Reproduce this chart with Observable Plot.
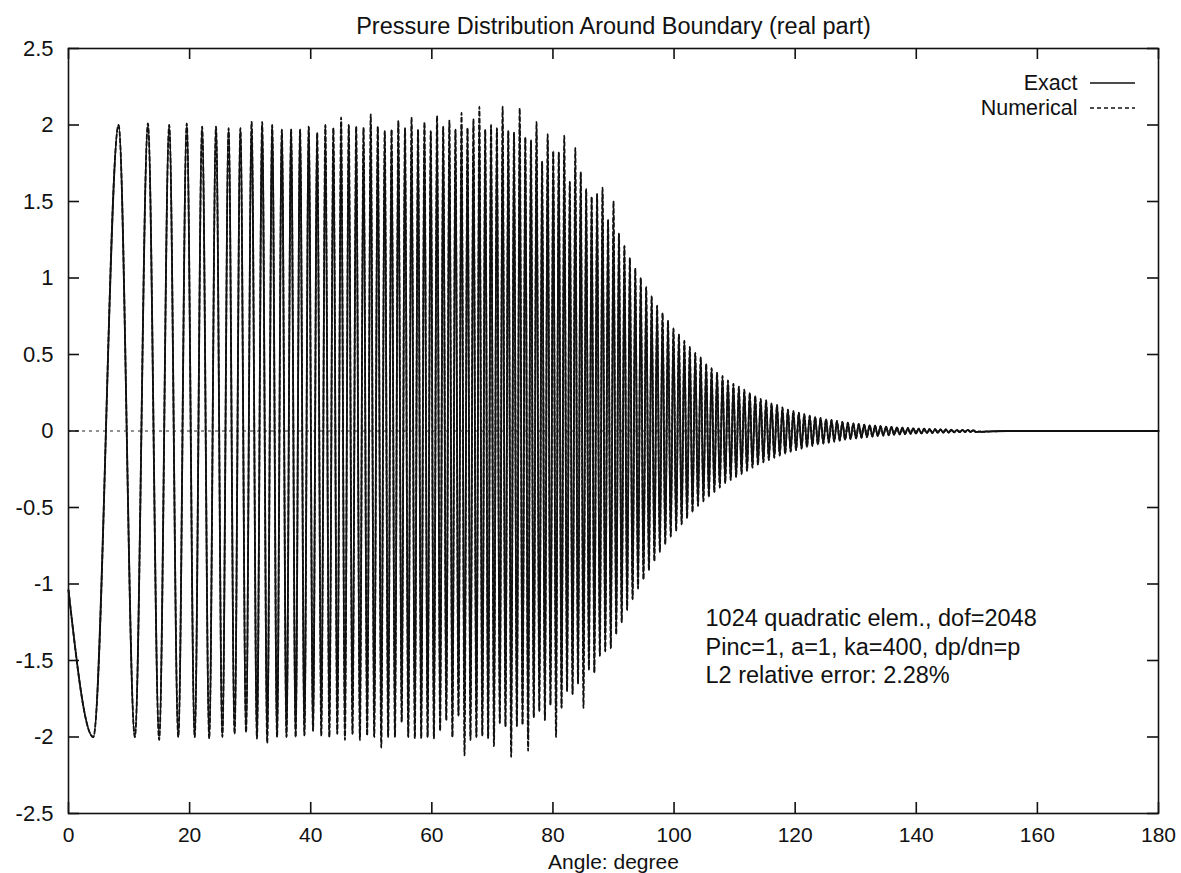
<!DOCTYPE html>
<html>
<head>
<meta charset="utf-8">
<script src="https://cdn.jsdelivr.net/npm/d3@7"></script>
<script src="https://cdn.jsdelivr.net/npm/@observablehq/plot@0.6"></script>
<style>
  html, body { margin: 0; padding: 0; background: #fff; }
  #wrap { position: relative; width: 1181px; height: 873px; font-family: "Liberation Sans", Arial, Helvetica, sans-serif; }
  #legendSwatch { position: absolute; left: 0; top: 0; pointer-events: none; }
</style>
</head>
<body>
<div id="wrap"></div>
<script>
// ---------- chart texts ----------
const titleText = "Pressure Distribution Around Boundary (real part)";
const xLabelText = "Angle: degree";
const seriesNames = ["Exact", "Numerical"];
const annotationLines = [
  "1024 quadratic elem., dof=2048",
  "Pinc=1, a=1, ka=400, dp/dn=p",
  "L2 relative error: 2.28%"
];

// ---------- ticks ----------
const xTicks = [0, 20, 40, 60, 80, 100, 120, 140, 160, 180];
const yTicks = [-2.5, -2, -1.5, -1, -0.5, 0, 0.5, 1, 1.5, 2, 2.5];

// ---------- data: extrema ----------
// illuminated side: [angle (deg), exact, numerical]
const litExtrema = [
  [0, -1.04, -1.04], [4.09, -2, -2], [8.27, 2, 2], [10.96, -2, -2], [13.12, 2, 2.01],
  [14.97, -2, -2.02], [16.63, 2, 2], [18.13, -2, -2], [19.53, 2, 2.01], [20.84, -2, -2],
  [22.07, 1.99, 1.99], [23.24, -2, -2.01], [24.36, 1.99, 1.99], [25.41, -2, -2], [26.44, 1.98, 1.98],
  [27.43, -1.98, -1.98], [28.39, 1.98, 1.98], [29.32, -1.97, -1.97], [30.24, 2, 2.02], [31.12, -2, -2.01],
  [31.98, 2, 2.02], [32.82, -2, -2.04], [33.64, 2, 2], [34.44, -2, -2], [35.23, 1.97, 1.97],
  [36.00, -2, -2], [36.76, 1.97, 1.97], [37.51, -2, -2], [38.24, 1.97, 1.97], [38.96, -1.99, -1.99],
  [39.67, 1.99, 1.99], [40.38, -1.96, -1.96], [41.07, 1.95, 1.95], [41.75, -1.99, -1.99], [42.42, 2, 2],
  [43.08, -2, -2], [43.74, 1.98, 1.98], [44.39, -1.98, -1.98], [45.02, 2, 2.05], [45.65, -2, -2.02],
  [46.28, 2, 2], [46.90, -1.98, -1.98], [47.51, 1.99, 1.99], [48.12, -2, -2.02], [48.72, 1.98, 1.98],
  [49.32, -1.99, -1.99], [49.91, 2, 2.07], [50.49, -2, -2], [51.07, 1.99, 1.99], [51.65, -2, -2.07],
  [52.22, 1.96, 1.96], [52.79, -2, -2], [53.35, 1.97, 1.97], [53.91, -2, -2], [54.47, 2, 2.03],
  [55.02, -1.9, -1.9], [55.57, 1.98, 1.98], [56.11, -2, -2], [56.65, 2, 2.05], [57.19, -2, -2.01],
  [57.72, 1.97, 1.97], [58.25, -2, -2.01], [58.78, 2, 2.02], [59.30, -2, -2], [59.82, 1.96, 1.96],
  [60.34, -2, -2.01], [60.86, 2, 2.06], [61.37, -1.96, -1.96], [61.88, 1.99, 1.99], [62.39, -1.89, -1.89],
  [62.90, 2, 2.03], [63.40, -2, -2], [63.90, 1.97, 1.97], [64.40, -1.86, -1.86], [64.90, 2, 2.08],
  [65.40, -2, -2.12], [65.89, 1.98, 1.98], [66.38, -2, -2.02], [66.87, 2, 2.04], [67.36, -2, -2],
  [67.85, 2, 2.12], [68.34, -1.99, -1.99], [68.82, 1.97, 1.97], [69.30, -2, -2.01], [69.78, 2, 2],
  [70.26, -2, -2.06], [70.74, 1.98, 1.98], [71.22, -1.91, -1.91], [71.69, 2, 2.12], [72.16, -1.93, -1.93],
  [72.63, 1.96, 1.96], [73.10, -2, -2.13], [73.57, 1.95, 1.95], [74.04, -1.93, -1.93], [74.51, 2, 2.11],
  [74.98, -1.92, -1.92], [75.44, 1.92, 1.92], [75.90, -2, -2.09], [76.37, 1.9, 1.9], [76.83, -1.87, -1.87],
  [77.29, 1.95, 2.02], [77.75, -1.83, -1.83], [78.21, 1.76, 1.76], [78.67, -1.89, -1.89], [79.13, 1.9, 1.94],
  [79.59, -1.79, -1.79], [80.05, 1.83, 1.83], [80.51, -1.8, -2.0], [80.96, 1.82, 1.82], [81.42, -1.81, -1.81],
  [81.87, 1.8, 1.93], [82.33, -1.7, -1.7], [82.78, 1.63, 1.63], [83.24, -1.72, -1.72], [83.69, 1.7, 1.85],
  [84.14, -1.65, -1.65], [84.59, 1.69, 1.69], [85.04, -1.62, -1.81], [85.49, 1.58, 1.58], [85.94, -1.56, -1.56],
  [86.39, 1.53, 1.53], [86.84, -1.58, -1.58], [87.29, 1.55, 1.55], [87.74, -1.47, -1.47], [88.19, 1.55, 1.59],
  [88.64, -1.44, -1.44], [89.10, 1.38, 1.38], [89.55, -1.42, -1.42], [90.00, 1.4, 1.5]
];

// shadow side (both curves coincide): [angle (deg), value]
const shadowExtrema = [
  [90.45, -1.33], [90.9, 1.29], [91.35, -1.25], [91.8, 1.21], [92.25, -1.17], [92.7, 1.13], [93.15, -1.1], [93.6, 1.06],
  [94.05, -1.03], [94.5, 1.0], [94.95, -0.97], [95.4, 0.94], [95.85, -0.91], [96.3, 0.88], [96.75, -0.85], [97.2, 0.82],
  [97.65, -0.79], [98.1, 0.77], [98.55, -0.74], [99, 0.72], [99.45, -0.69], [99.9, 0.67], [100.35, -0.65], [100.8, 0.63],
  [101.25, -0.61], [101.7, 0.59], [102.15, -0.57], [102.6, 0.55], [103.05, -0.53], [103.5, 0.51], [103.95, -0.49], [104.4, 0.48],
  [104.85, -0.46], [105.3, 0.44], [105.75, -0.43], [106.2, 0.41], [106.65, -0.4], [107.1, 0.38], [107.55, -0.37], [108, 0.36],
  [108.45, -0.34], [108.9, 0.33], [109.35, -0.32], [109.8, 0.31], [110.25, -0.3], [110.7, 0.29], [111.15, -0.28], [111.6, 0.27],
  [112.05, -0.26], [112.5, 0.25], [112.95, -0.24], [113.4, 0.23], [113.85, -0.22], [114.3, 0.21], [114.75, -0.205], [115.2, 0.2],
  [115.65, -0.19], [116.1, 0.18], [116.55, -0.175], [117, 0.17], [117.45, -0.16], [117.9, 0.155], [118.35, -0.15], [118.8, 0.14],
  [119.25, -0.135], [119.7, 0.13], [120.15, -0.125], [120.6, 0.12], [121.05, -0.115], [121.5, 0.11], [121.95, -0.105], [122.4, 0.1],
  [122.85, -0.097], [123.3, 0.093], [123.75, -0.089], [124.2, 0.085], [124.65, -0.082], [125.1, 0.078], [125.55, -0.075], [126, 0.072],
  [126.45, -0.069], [126.9, 0.066], [127.35, -0.063], [127.8, 0.06], [128.25, -0.058], [128.7, 0.055], [129.15, -0.053], [129.6, 0.05],
  [130.05, -0.048], [130.5, 0.046], [130.95, -0.044], [131.4, 0.042], [131.85, -0.04], [132.3, 0.038], [132.75, -0.036], [133.2, 0.035],
  [133.65, -0.033], [134.1, 0.032], [134.55, -0.03], [135, 0.029], [135.45, -0.028], [135.9, 0.026], [136.35, -0.025], [136.8, 0.024],
  [137.25, -0.023], [137.7, 0.022], [138.15, -0.021], [138.6, 0.02], [139.05, -0.019], [139.5, 0.018], [139.95, -0.017], [140.4, 0.016],
  [140.85, -0.016], [141.3, 0.015], [141.75, -0.014], [142.2, 0.014], [142.65, -0.013], [143.1, 0.012], [143.55, -0.012], [144, 0.011],
  [144.45, -0.011], [144.9, 0.01], [145.35, -0.01], [145.8, 0.009], [146.25, -0.009], [146.7, 0.008], [147.15, -0.008], [147.6, 0.007],
  [148.05, -0.007], [148.5, 0.007], [148.95, -0.006], [149.4, 0.006], [149.85, -0.006]
];

// flat tail
const tailPoints = [[155, 0], [180, 0]];

// ---------- build tables ----------
const exactData = [
  ...litExtrema.map(([a, e]) => ({angle: a, p: e})),
  ...shadowExtrema.map(([a, v]) => ({angle: a, p: v})),
  ...tailPoints.map(([a, v]) => ({angle: a, p: v}))
];
const numericalData = [
  ...litExtrema.map(([a, , n]) => ({angle: a, p: n})),
  ...shadowExtrema.map(([a, v]) => ({angle: a, p: v})),
  ...tailPoints.map(([a, v]) => ({angle: a, p: v}))
];

const W = 1181, H = 873;
const mL = 68, mR = 23, mT = 48, mB = 60;
const frameW = W - mL - mR, frameH = H - mT - mB;
const tickLen = 11;
const FONT = "\"Liberation Sans\", Arial, Helvetica, sans-serif";
const ink = "#111";

const chart = Plot.plot({
  width: W,
  height: H,
  marginLeft: mL,
  marginRight: mR,
  marginTop: mT,
  marginBottom: mB,
  style: {fontFamily: FONT, fontSize: "22px", color: ink, background: "#fff", overflow: "visible"},
  x: {domain: [0, 180]},
  y: {domain: [-2.5, 2.5]},
  marks: [
    Plot.ruleY([0], {stroke: "#222", strokeWidth: 1.2, strokeDasharray: "3,4"}),
    Plot.line(exactData, {x: "angle", y: "p", curve: "monotone-x", stroke: ink, strokeWidth: 1.8}),
    Plot.line(numericalData, {x: "angle", y: "p", curve: "monotone-x", stroke: ink, strokeWidth: 1.8, strokeDasharray: "4,3"}),
    Plot.axisX({ticks: xTicks, tickSize: 0, tickPadding: 14, tickFormat: d => String(d), label: null, fontSize: 21}),
    Plot.axisY({ticks: yTicks, tickSize: 0, tickPadding: 15, tickFormat: d => String(d), label: null, fontSize: 22}),
    Plot.tickX(xTicks, {x: d => d, insetBottom: frameH - tickLen, stroke: ink, strokeWidth: 1.6}),
    Plot.tickX(xTicks, {x: d => d, insetTop: frameH - tickLen, stroke: ink, strokeWidth: 1.6}),
    Plot.tickY(yTicks, {y: d => d, insetRight: frameW - tickLen, stroke: ink, strokeWidth: 1.6}),
    Plot.tickY(yTicks, {y: d => d, insetLeft: frameW - tickLen, stroke: ink, strokeWidth: 1.6}),
    Plot.frame({stroke: ink, strokeWidth: 1.6}),
    Plot.text([titleText], {text: d => d, frameAnchor: "top", lineAnchor: "middle", dy: -22, fontSize: 23.5, fill: ink}),
    Plot.text([xLabelText], {text: d => d, frameAnchor: "bottom", lineAnchor: "middle", dy: 49, fontSize: 21, fill: ink}),
    Plot.text([annotationLines.join("\n")], {text: d => d, frameAnchor: "top-left", textAnchor: "start", lineAnchor: "top", dx: 637, dy: 557, lineHeight: 1.22, fontSize: 23.5, fill: ink}),
    Plot.text([seriesNames[0]], {text: d => d, frameAnchor: "top-right", textAnchor: "end", lineAnchor: "middle", dx: -81, dy: 35, fontSize: 21.5, fill: ink}),
    Plot.text([seriesNames[1]], {text: d => d, frameAnchor: "top-right", textAnchor: "end", lineAnchor: "middle", dx: -81, dy: 60, fontSize: 21.5, fill: ink})
  ]
});

const wrap = document.getElementById("wrap");
wrap.appendChild(chart);

// legend swatches
const ns = "http://www.w3.org/2000/svg";
const sw = document.createElementNS(ns, "svg");
sw.setAttribute("id", "legendSwatch");
sw.setAttribute("width", W);
sw.setAttribute("height", 140);
const swatchDefs = [
  {y: 83, dash: null},
  {y: 108, dash: "4,3"}
];
swatchDefs.forEach(s => {
  const l = document.createElementNS(ns, "line");
  l.setAttribute("x1", 1090); l.setAttribute("x2", 1135);
  l.setAttribute("y1", s.y); l.setAttribute("y2", s.y);
  l.setAttribute("stroke", ink); l.setAttribute("stroke-width", 1.5);
  if (s.dash) l.setAttribute("stroke-dasharray", s.dash);
  sw.appendChild(l);
});
wrap.appendChild(sw);
</script>
</body>
</html>
